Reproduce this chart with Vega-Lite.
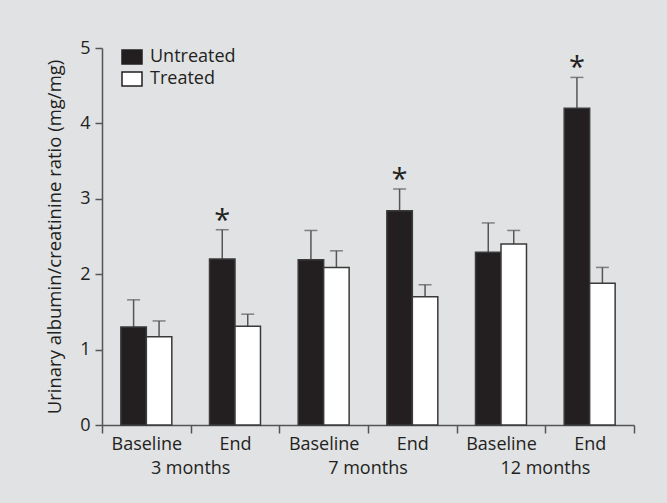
{
  "$schema": "https://vega.github.io/schema/vega-lite/v6.json",
  "width": 532,
  "height": 377,
  "autosize": "none",
  "padding": {"left": 102, "top": 48, "right": 33, "bottom": 78},
  "background": "#e1e2e4",
  "config": {
    "view": {"stroke": null},
    "font": "Open Sans",
    "axis": {"labelFont": "Open Sans", "titleFont": "Open Sans", "labelColor": "#231f20", "titleColor": "#231f20"}
  },
  "datasets": {
    "bars": [
      {"cat": "3 months|Baseline", "group": "Untreated", "value": 1.30, "upper": 1.66, "star": ""},
      {"cat": "3 months|Baseline", "group": "Treated", "value": 1.17, "upper": 1.38, "star": ""},
      {"cat": "3 months|End", "group": "Untreated", "value": 2.20, "upper": 2.59, "star": "*"},
      {"cat": "3 months|End", "group": "Treated", "value": 1.31, "upper": 1.47, "star": ""},
      {"cat": "7 months|Baseline", "group": "Untreated", "value": 2.19, "upper": 2.58, "star": ""},
      {"cat": "7 months|Baseline", "group": "Treated", "value": 2.09, "upper": 2.31, "star": ""},
      {"cat": "7 months|End", "group": "Untreated", "value": 2.84, "upper": 3.13, "star": "*"},
      {"cat": "7 months|End", "group": "Treated", "value": 1.70, "upper": 1.86, "star": ""},
      {"cat": "12 months|Baseline", "group": "Untreated", "value": 2.29, "upper": 2.68, "star": ""},
      {"cat": "12 months|Baseline", "group": "Treated", "value": 2.40, "upper": 2.58, "star": ""},
      {"cat": "12 months|End", "group": "Untreated", "value": 4.20, "upper": 4.61, "star": "*"},
      {"cat": "12 months|End", "group": "Treated", "value": 1.88, "upper": 2.09, "star": ""}
    ],
    "months": [
      {"cat": "3 months|End", "month": "3 months"},
      {"cat": "7 months|End", "month": "7 months"},
      {"cat": "12 months|End", "month": "12 months"}
    ]
  },
  "data": {"name": "bars"},
  "encoding": {
    "x": {
      "field": "cat",
      "type": "nominal",
      "sort": null,
      "scale": {"paddingInner": 0, "paddingOuter": 0},
      "axis": {
        "title": null,
        "labelExpr": "split(datum.value, '|')[1]",
        "labelAngle": 0,
        "labelFontSize": 18,
        "labelPadding": 2,
        "tickBand": "extent",
        "tickSize": 8,
        "tickColor": "#555555",
        "tickWidth": 1.5,
        "domainColor": "#555555",
        "domainWidth": 1.5
      }
    },
    "xOffset": {
      "field": "group",
      "type": "nominal",
      "scale": {"domain": ["Untreated", "Treated"], "paddingInner": 0, "paddingOuter": 0.74}
    }
  },
  "layer": [
    {
      "mark": {"type": "rule", "color": "#555555", "strokeWidth": 1.5},
      "encoding": {
        "y": {"field": "value", "type": "quantitative"},
        "y2": {"field": "upper"}
      }
    },
    {
      "mark": {"type": "tick", "color": "#555555", "thickness": 1.5, "size": 13, "orient": "horizontal"},
      "encoding": {
        "y": {"field": "upper", "type": "quantitative"}
      }
    },
    {
      "mark": {"type": "bar", "stroke": "#3a3a3a", "strokeWidth": 1.5},
      "encoding": {
        "y": {
          "field": "value",
          "type": "quantitative",
          "scale": {"domain": [0, 5], "nice": false},
          "axis": {
            "title": "Urinary albumin/creatinine ratio (mg/mg)",
            "titleFontSize": 18.5,
            "titleFontWeight": "normal",
            "titlePadding": 15,
            "labelFontSize": 18,
            "labelPadding": 5,
            "format": "d",
            "values": [0, 1, 2, 3, 4, 5],
            "grid": false,
            "tickSize": 7,
            "tickColor": "#555555",
            "tickWidth": 1.5,
            "domainColor": "#555555",
            "domainWidth": 1.5
          }
        },
        "fill": {
          "field": "group",
          "type": "nominal",
          "scale": {"domain": ["Untreated", "Treated"], "range": ["#231f20", "#ffffff"]},
          "legend": {
            "title": null,
            "orient": "none",
            "legendX": 19,
            "legendY": -2,
            "symbolType": "M-1,-0.7H1V0.7H-1Z",
            "symbolSize": 400,
            "symbolStrokeColor": "#231f20",
            "symbolStrokeWidth": 1.5,
            "labelFontSize": 18,
            "labelColor": "#231f20",
            "labelOffset": 7,
            "rowPadding": 1
          }
        }
      }
    },
    {
      "mark": {"type": "text", "fontSize": 29, "color": "#231f20", "baseline": "alphabetic", "dy": 0},
      "encoding": {
        "y": {"field": "upper", "type": "quantitative"},
        "text": {"field": "star"}
      }
    },
    {
      "data": {"name": "months"},
      "mark": {"type": "text", "fontSize": 18, "color": "#231f20", "baseline": "middle", "dy": 44},
      "encoding": {
        "x": {"field": "cat", "type": "nominal", "sort": null, "bandPosition": 0},
        "xOffset": null,
        "y": {"datum": 0, "type": "quantitative"},
        "text": {"field": "month"}
      }
    }
  ]
}
